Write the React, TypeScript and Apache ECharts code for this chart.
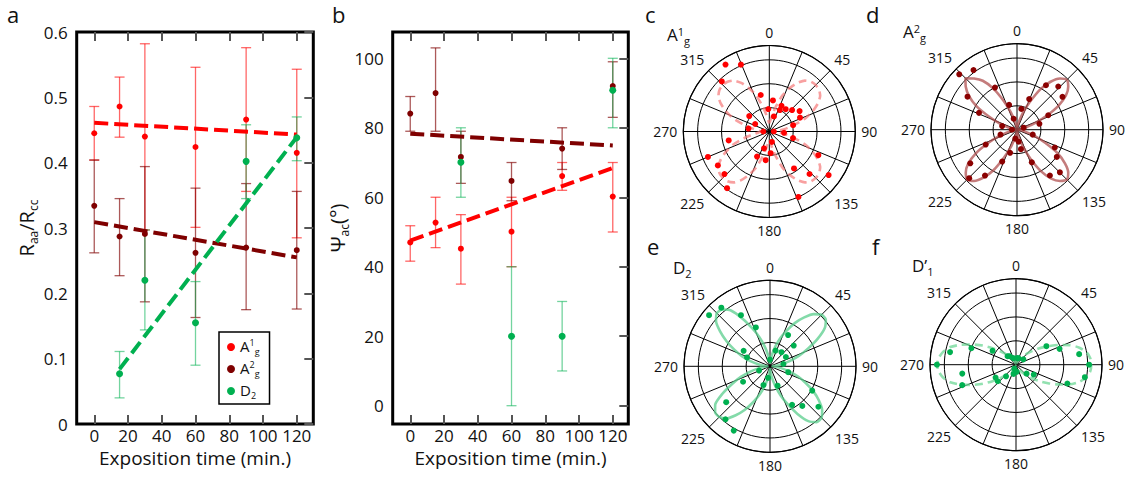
import React, { useEffect, useRef } from 'react';
import * as echarts from 'echarts';

const FONT = '"Open Sans", Lato, "DejaVu Sans", sans-serif';

// ---------- Panel a : Raa/Rcc vs exposition time ----------
const timesAll = [0, 15, 30, 60, 90, 120];
const timesD2a = [15, 30, 60, 90, 120];
const ratioA1g = [0.445, 0.486, 0.44, 0.424, 0.466, 0.415];
const ratioA1gLow = [0.404, 0.439, 0.297, 0.301, 0.356, 0.285];
const ratioA1gHigh = [0.486, 0.531, 0.582, 0.546, 0.576, 0.543];
const ratioA2g = [0.334, 0.287, 0.291, 0.262, 0.27, 0.266];
const ratioA2gLow = [0.262, 0.227, 0.187, 0.163, 0.175, 0.176];
const ratioA2gHigh = [0.404, 0.345, 0.394, 0.361, 0.368, 0.356];
const ratioD2 = [0.077, 0.22, 0.155, 0.402, 0.438];
const ratioD2Low = [0.04, 0.144, 0.09, 0.345, 0.403];
const ratioD2High = [0.111, 0.297, 0.218, 0.458, 0.47];
const fitRatioA1g: [number, number][] = [[0, 0.461], [120, 0.443]];
const fitRatioA2g: [number, number][] = [[0, 0.309], [120, 0.255]];
const fitRatioD2: [number, number][] = [[15, 0.084], [120, 0.439]];

// ---------- Panel b : Psi_ac vs exposition time ----------
const timesD2b = [30, 60, 90, 120];
const psiA1g = [47.0, 52.7, 45.2, 50.1, 66.1, 60.2];
const psiA1gLow = [41.6, 45.5, 35, 40, 62, 50];
const psiA1gHigh = [51.8, 60, 55, 60, 70, 70];
const psiA2g = [84.1, 90.0, 71.6, 64.7, 74.0, 92.0];
const psiA2gLow = [79, 79, 64, 59, 68, 83];
const psiA2gHigh = [89, 103, 79, 70, 80, 99];
const psiD2 = [70.1, 20, 20, 90.8];
const psiD2Low = [60, 0, 10, 80];
const psiD2High = [80, 40, 30, 100];
const fitPsiA1g: [number, number][] = [[0, 47.5], [120, 68.4]];
const fitPsiA2g: [number, number][] = [[0, 78.3], [120, 74.9]];

const timeTicks = [0, 20, 40, 60, 80, 100, 120];
const ratioTicks = [0, 0.1, 0.2, 0.3, 0.4, 0.5, 0.6];
const psiTicks = [0, 20, 40, 60, 80, 100];
const angleLabels = [0, 45, 90, 135, 180, 225, 270, 315];

// ---------- Polar panels: [angle (deg), intensity] ----------
const polarA1g: [number, number][] = [
  [326.8, 3.35], [337, 3.04], [316.5, 2.89], [346.8, 1.57], [6.7, 1.31], [357.5, 0.94],
  [25.4, 1.19], [26.2, 1.0], [36.3, 1.16], [46.7, 1.31], [56, 1.53], [65.7, 1.41],
  [17, 0.66], [307.6, 1.06], [298, 0.67], [278, 0.88], [270, 0.25], [90, 0.19],
  [75.2, 1.03], [95, 0.62], [105.5, 1.03], [166, 0.45], [197.4, 0.74], [176.5, 0.91],
  [206, 1.17], [187.2, 1.21], [257.6, 1.74], [247.5, 2.78], [236.6, 2.58], [226.5, 2.59],
  [216.7, 2.96], [115.8, 2.28], [146.2, 1.86], [136.6, 2.45], [126.3, 3.08], [156, 3.0],
];
const polarA2g: [number, number][] = [
  [313.8, 3.35], [323.9, 3.09], [303.7, 2.49], [332.4, 1.99], [293.9, 1.74], [342.3, 1.09],
  [283.7, 0.64], [343.1, 0.48], [11.7, 0.89], [21.7, 1.38], [33.1, 2.22], [43.7, 2.5],
  [54.1, 2.35], [65.2, 1.44], [75.2, 0.97], [73.3, 0.29], [270, 0.21], [253.3, 0.72],
  [244.6, 1.45], [234.3, 2.41], [224.6, 2.85], [214.9, 2.34], [204.9, 1.47], [196.7, 1.01],
  [190.5, 0.38], [172.3, 0.51], [168.5, 0.83], [107.4, 0.69], [115.2, 1.75], [124.4, 2.02],
  [134.8, 2.53], [144.3, 2.36], [155.6, 1.5],
];
const polarD2: [number, number][] = [
  [310, 3.33], [320.3, 3.19], [330.4, 2.46], [340, 1.73], [300.4, 1.28], [291.1, 1.03],
  [30.1, 1.51], [48.8, 1.32], [19.5, 0.7], [39.1, 0.76], [59.7, 0.77], [0, 0.28],
  [80.3, 0.57], [108, 0.8], [248.5, 0.49], [189.7, 0.49], [199.3, 0.83], [158.7, 0.87],
  [240.2, 1.3], [230.7, 2.37], [220, 2.9], [209.4, 3.09], [120, 2.04], [150.2, 1.86],
  [140.8, 2.14], [129.9, 2.64],
];
const polarD1: [number, number][] = [
  [270, 3.31], [280.8, 2.81], [290.3, 1.99], [300.6, 1.14], [260.6, 2.28], [249.2, 2.41],
  [237.8, 1.01], [227.7, 1.03], [220.6, 0.64], [322.4, 0.45], [338, 0.3], [19.3, 0.29],
  [54, 0.38], [202.6, 0.18], [175, 0.3], [130.2, 0.58], [119.1, 0.85], [58.7, 1.49],
  [70, 1.94], [80.5, 2.68], [90, 3.06], [100.3, 2.93], [110.1, 2.29], [315, 0.5],
  [10, 0.28], [195, 0.4],
];

// fitted curves, radius read every 5 degrees (0..360)
const curveAngles = [
  0, 5, 10, 15, 20, 25, 30, 35, 40, 45, 50, 55, 60, 65, 70, 75, 80, 85,
  90, 95, 100, 105, 110, 115, 120, 125, 130, 135, 140, 145, 150, 155, 160, 165, 170, 175,
  180, 185, 190, 195, 200, 205, 210, 215, 220, 225, 230, 235, 240, 245, 250, 255, 260, 265,
  270, 275, 280, 285, 290, 295, 300, 305, 310, 315, 320, 325, 330, 335, 340, 345, 350, 355, 360,
];
const curveA1g = [
  0.35, 0.45, 0.7, 1.1, 1.6, 2.0, 2.35, 2.6, 2.72, 2.75, 2.72, 2.6, 2.35, 2.0, 1.6, 1.1, 0.7, 0.45,
  0.35, 0.45, 0.7, 1.1, 1.6, 2.0, 2.35, 2.6, 2.72, 2.75, 2.72, 2.6, 2.35, 2.0, 1.6, 1.1, 0.7, 0.45,
  0.35, 0.45, 0.7, 1.1, 1.6, 2.0, 2.35, 2.6, 2.72, 2.75, 2.72, 2.6, 2.35, 2.0, 1.6, 1.1, 0.7, 0.45,
  0.35, 0.45, 0.7, 1.1, 1.6, 2.0, 2.35, 2.6, 2.72, 2.75, 2.72, 2.6, 2.35, 2.0, 1.6, 1.1, 0.7, 0.45,
  0.35,
];
const curveA2g = [
  0.03, 0.08, 0.2, 0.4, 0.8, 1.3, 1.95, 2.45, 2.8, 2.95, 2.8, 2.5, 2.0, 1.35, 0.8, 0.4, 0.2, 0.08,
  0.03, 0.08, 0.2, 0.4, 0.8, 1.3, 1.95, 2.45, 2.8, 2.95, 2.8, 2.5, 2.0, 1.35, 0.8, 0.4, 0.2, 0.08,
  0.03, 0.08, 0.2, 0.4, 0.8, 1.3, 1.95, 2.45, 2.8, 2.95, 2.8, 2.5, 2.0, 1.35, 0.8, 0.4, 0.2, 0.08,
  0.03, 0.08, 0.2, 0.4, 0.8, 1.3, 1.95, 2.45, 2.8, 3.05, 2.8, 2.5, 2.0, 1.35, 0.8, 0.4, 0.2, 0.08,
  0.03,
];
const curveD2 = [
  0.1, 0.25, 0.5, 0.85, 1.25, 1.65, 2.1, 2.5, 2.85, 3.05, 3.05, 2.8, 2.3, 1.75, 1.3, 0.85, 0.5, 0.25,
  0.1, 0.25, 0.5, 0.85, 1.25, 1.65, 2.1, 2.5, 2.85, 3.05, 3.05, 2.8, 2.3, 1.75, 1.3, 0.85, 0.5, 0.25,
  0.1, 0.25, 0.5, 0.85, 1.25, 1.65, 2.1, 2.5, 2.85, 3.0, 3.0, 2.8, 2.3, 1.75, 1.3, 0.85, 0.5, 0.25,
  0.1, 0.25, 0.5, 0.85, 1.25, 1.65, 2.1, 2.55, 2.95, 3.15, 3.1, 2.85, 2.3, 1.75, 1.3, 0.85, 0.5, 0.25,
  0.1,
];
const curveD1 = [
  0.05, 0.05, 0.05, 0.08, 0.1, 0.15, 0.2, 0.3, 0.45, 0.65, 0.9, 1.2, 1.55, 1.95, 2.4, 2.75, 3.0, 3.12,
  3.15, 3.12, 3.0, 2.75, 2.4, 1.95, 1.55, 1.2, 0.9, 0.65, 0.45, 0.3, 0.2, 0.15, 0.1, 0.08, 0.05, 0.05,
  0.05, 0.05, 0.05, 0.08, 0.1, 0.15, 0.2, 0.3, 0.45, 0.65, 0.9, 1.2, 1.6, 2.0, 2.45, 2.85, 3.1, 3.25,
  3.3, 3.25, 3.1, 2.85, 2.45, 2.0, 1.6, 1.2, 0.9, 0.65, 0.45, 0.3, 0.2, 0.15, 0.1, 0.08, 0.05, 0.05,
  0.05,
];

const RED = '#ff0000';
const DARK = '#7f0000';
const GREEN = '#00b050';

const rich = (size: number) => ({
  m: { fontSize: size, lineHeight: size + 3, verticalAlign: 'top', fontFamily: FONT, color: '#111' },
  sup: { fontSize: Math.round(size * 0.62), lineHeight: Math.round(size * 0.62), verticalAlign: 'top', fontFamily: FONT, color: '#111' },
  sub: {
    fontSize: Math.round(size * 0.62), lineHeight: Math.round(size * 0.62), verticalAlign: 'bottom',
    padding: [Math.round(size * 0.72), 0, 0, 0], fontFamily: FONT, color: '#111',
  },
});

function errorSeries(name: string, xs: number[], lo: number[], hi: number[], color: string, gi: number) {
  return {
    type: 'custom',
    name,
    xAxisIndex: gi * 2,
    yAxisIndex: gi * 2,
    z: 2,
    silent: true,
    data: xs.map((x, i) => [x, lo[i], hi[i]]),
    encode: { x: 0, y: [1, 2] },
    renderItem: (_p: any, api: any) => {
      const x = api.value(0);
      const a = api.coord([x, api.value(1)]);
      const b = api.coord([x, api.value(2)]);
      const w = 5;
      const style = { stroke: color, lineWidth: 1.3, fill: null };
      return {
        type: 'group',
        children: [
          { type: 'line', shape: { x1: a[0], y1: a[1], x2: b[0], y2: b[1] }, style },
          { type: 'line', shape: { x1: a[0] - w, y1: a[1], x2: a[0] + w, y2: a[1] }, style },
          { type: 'line', shape: { x1: b[0] - w, y1: b[1], x2: b[0] + w, y2: b[1] }, style },
        ],
      };
    },
  };
}

function pointSeries(name: string, xs: number[], ys: number[], color: string, gi: number, size: number) {
  return {
    type: 'scatter', name, xAxisIndex: gi * 2, yAxisIndex: gi * 2, z: 4,
    symbol: 'circle', symbolSize: size, itemStyle: { color, opacity: 1 },
    data: xs.map((x, i) => [x, ys[i]]),
  };
}

function fitSeries(name: string, data: [number, number][], color: string, gi: number) {
  return {
    type: 'line', name, xAxisIndex: gi * 2, yAxisIndex: gi * 2, z: 3, symbol: 'none', silent: true,
    data, lineStyle: { color, width: 4, type: [14, 6] },
  };
}

const tickStyle = { color: '#555', width: 2 };
const noLine = { show: false, onZero: false };

function xAxes(gi: number, min: number, max: number) {
  return [
    {
      gridIndex: gi, type: 'value', min, max, position: 'bottom',
      axisLine: noLine, splitLine: { show: false },
      axisTick: { show: true, inside: true, length: 9, lineStyle: tickStyle, customValues: timeTicks },
      axisLabel: { customValues: timeTicks, fontSize: 17, color: '#111', margin: 3, fontFamily: FONT },
      name: 'Exposition time (min.)', nameLocation: 'middle', nameGap: 17,
      nameTextStyle: { fontSize: 19, color: '#111', fontFamily: FONT },
    },
    {
      gridIndex: gi, type: 'value', min, max, position: 'top',
      axisLine: noLine, splitLine: { show: false }, axisLabel: { show: false },
      axisTick: { show: true, inside: true, length: 9, lineStyle: tickStyle, customValues: timeTicks },
    },
  ];
}

function yAxes(gi: number, min: number, max: number, ticks: number[], name: string, gap: number) {
  return [
    {
      gridIndex: gi, type: 'value', min, max, position: 'left',
      axisLine: noLine, splitLine: { show: false }, axisTick: { show: false },
      axisLabel: { customValues: ticks, fontSize: 17, color: '#111', margin: 9, fontFamily: FONT },
      name, nameLocation: 'middle', nameGap: gap, nameRotate: 90,
      nameTextStyle: { rich: rich(20) },
    },
    {
      gridIndex: gi, type: 'value', min, max, position: 'right',
      axisLine: noLine, splitLine: { show: false }, axisLabel: { show: false },
      axisTick: { show: true, inside: true, length: 9, lineStyle: tickStyle, customValues: ticks },
    },
  ];
}

const polarCenters = [[769.3, 131.5], [1017, 129.7], [770, 366.3], [1016, 364.7]];

function polarAngle(i: number) {
  return {
    polarIndex: i, type: 'value', min: 0, max: 360, interval: 22.5, startAngle: 90, clockwise: true,
    axisLine: { show: true, lineStyle: { color: '#000', width: 1.2 } },
    axisTick: { show: false },
    axisLabel: {
      fontSize: 14, color: '#111', margin: 6, fontFamily: FONT,
      formatter: (v: number) => (angleLabels.includes(v) ? String(v) : ''),
    },
    splitLine: { show: true, lineStyle: { color: '#000', width: 1 } },
  };
}
function polarRadius(i: number) {
  return {
    polarIndex: i, type: 'value', min: 0, max: 3.6, interval: 1,
    axisLine: { show: false }, axisTick: { show: false }, axisLabel: { show: false },
    splitLine: { show: true, lineStyle: { color: '#000', width: 1 } },
  };
}
function polarPoints(i: number, pts: [number, number][], color: string, size: number) {
  return {
    type: 'scatter', name: 'polar' + i, coordinateSystem: 'polar', polarIndex: i, z: 4,
    symbol: 'circle', symbolSize: size, itemStyle: { color, opacity: 1 },
    data: pts.map((p) => [p[1], p[0]]),
  };
}
function polarCurve(i: number, radii: number[], color: string, dashed: boolean) {
  return {
    type: 'line', name: 'curve' + i, coordinateSystem: 'polar', polarIndex: i, z: 3, symbol: 'none',
    silent: true, smooth: 0.2,
    data: curveAngles.map((a, k) => [radii[k], a]),
    lineStyle: { color, width: 2.6, type: dashed ? [8, 5] : 'solid' },
  };
}

function textEl(text: string, x: number, y: number, size: number) {
  return {
    type: 'text', x, y, z: 10,
    style: { text, fontSize: size, fontFamily: FONT, fill: '#111', verticalAlign: 'middle' },
  };
}
function richEl(text: string, x: number, y: number, size: number) {
  return {
    type: 'text', x, y, z: 10,
    style: { text, rich: rich(size), fill: '#111', verticalAlign: 'top' },
  };
}

const legendNames: Record<string, string> = {
  A1g: '{m|A}{sup|1}{sub|g}',
  A2g: '{m|A}{sup|2}{sub|g}',
  D2: '{m|D}{sub|2}',
};

export default function App() {
  const ref = useRef<HTMLDivElement>(null);
  useEffect(() => {
    if (!ref.current) return;
    const chart = echarts.init(ref.current, undefined, { renderer: 'svg' });
    const option: any = {
      animation: false,
      backgroundColor: '#fff',
      textStyle: { fontFamily: FONT },
      grid: [
        { left: 76.7, top: 32, width: 236.6, height: 392, show: true, borderColor: '#000', borderWidth: 3, backgroundColor: 'transparent' },
        { left: 392.7, top: 32, width: 235.6, height: 392, show: true, borderColor: '#000', borderWidth: 3, backgroundColor: 'transparent' },
      ],
      xAxis: [...xAxes(0, -10.4, 129.8), ...xAxes(1, -10.4, 129.2)],
      yAxis: [
        ...yAxes(0, 0, 0.6, ratioTicks, '{m|R}{sub|aa}{m|/R}{sub|cc}', 37),
        ...yAxes(1, -5.27, 107.57, psiTicks, '{m|Ψ}{sub|ac}{m|(°)}', 32),
      ],
      polar: polarCenters.map((c) => ({ center: c, radius: 86 })),
      angleAxis: [0, 1, 2, 3].map(polarAngle),
      radiusAxis: [0, 1, 2, 3].map(polarRadius),
      legend: {
        orient: 'vertical', left: 219, top: 332, padding: [4, 10, 4, 8], itemGap: 2,
        itemWidth: 8, itemHeight: 8, icon: 'circle', borderColor: '#000', borderWidth: 1.5,
        backgroundColor: '#fff', selectedMode: false,
        data: ['A1g', 'A2g', 'D2'],
        formatter: (n: string) => legendNames[n] || n,
        textStyle: { rich: rich(15) },
      },
      graphic: [
        textEl('a', 7, 14, 22),
        textEl('b', 332, 14, 22),
        textEl('c', 645, 14, 22),
        textEl('d', 866, 14, 22),
        textEl('e', 647, 246, 22),
        textEl('f', 872, 246, 22),
        richEl('{m|A}{sup|1}{sub|g}', 667, 26, 17),
        richEl('{m|A}{sup|2}{sub|g}', 903, 23, 17),
        richEl('{m|D}{sub|2}', 673, 259, 17),
        richEl('{m|D’}{sub|1}', 912, 257, 17),
      ],
      series: [
        errorSeries('A1g err', timesAll, ratioA1gLow, ratioA1gHigh, 'rgba(255,0,0,0.6)', 0),
        errorSeries('A2g err', timesAll, ratioA2gLow, ratioA2gHigh, 'rgba(127,0,0,0.65)', 0),
        errorSeries('D2 err', timesD2a, ratioD2Low, ratioD2High, 'rgba(0,176,80,0.55)', 0),
        fitSeries('A1g fit', fitRatioA1g, RED, 0),
        fitSeries('A2g fit', fitRatioA2g, DARK, 0),
        fitSeries('D2 fit', fitRatioD2, GREEN, 0),
        pointSeries('A1g', timesAll, ratioA1g, RED, 0, 6),
        pointSeries('A2g', timesAll, ratioA2g, DARK, 0, 6),
        pointSeries('D2', timesD2a, ratioD2, GREEN, 0, 7),

        errorSeries('A1g err b', timesAll, psiA1gLow, psiA1gHigh, 'rgba(255,0,0,0.6)', 1),
        errorSeries('A2g err b', timesAll, psiA2gLow, psiA2gHigh, 'rgba(127,0,0,0.65)', 1),
        errorSeries('D2 err b', timesD2b, psiD2Low, psiD2High, 'rgba(0,176,80,0.55)', 1),
        fitSeries('A1g fit b', fitPsiA1g, RED, 1),
        fitSeries('A2g fit b', fitPsiA2g, DARK, 1),
        pointSeries('A1g b', timesAll, psiA1g, RED, 1, 6),
        pointSeries('A2g b', timesAll, psiA2g, DARK, 1, 6),
        pointSeries('D2 b', timesD2b, psiD2, GREEN, 1, 7),

        polarCurve(0, curveA1g, 'rgba(245,120,120,0.7)', true),
        polarCurve(1, curveA2g, 'rgba(176,80,80,0.75)', false),
        polarCurve(2, curveD2, 'rgba(90,205,140,0.75)', false),
        polarCurve(3, curveD1, 'rgba(110,215,150,0.75)', true),
        polarPoints(0, polarA1g, RED, 6),
        polarPoints(1, polarA2g, '#8b0000', 6),
        polarPoints(2, polarD2, GREEN, 6),
        polarPoints(3, polarD1, GREEN, 6),
      ],
    };
    chart.setOption(option);
    return () => chart.dispose();
  }, []);
  return <div ref={ref} style={{ position: 'fixed', left: 0, top: 0, width: 1139, height: 477 }} />;
}
